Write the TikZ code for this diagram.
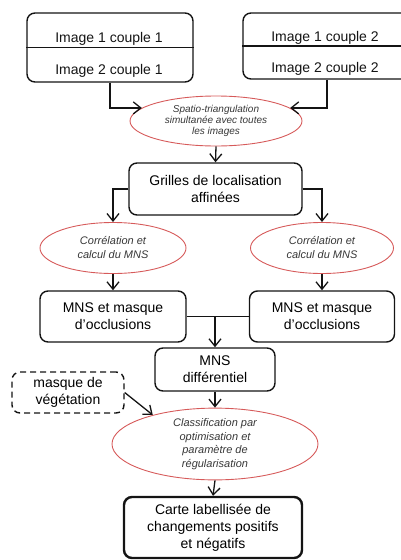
\documentclass[tikz,border=0pt]{standalone}
\usepackage{fontspec}
\setmainfont{Liberation Sans}
\usetikzlibrary{arrows.meta,shapes.geometric}
\definecolor{ellred}{RGB}{214,90,90}
\definecolor{elltext}{RGB}{55,55,55}
\definecolor{ink}{RGB}{20,20,20}
\begin{document}
\begin{tikzpicture}[x=1pt,y=-1pt,
  box/.style={draw=ink,line width=1.4pt,rounded corners=8pt,align=center,
    font=\fontsize{14}{17}\selectfont,inner sep=0pt},
  lbl/.style={font=\fontsize{14}{17}\selectfont,inner sep=0pt,text=ink},
  proc/.style={ellipse,draw=ellred,line width=0.9pt,align=center,inner sep=0pt,text=elltext},
  arr/.style={-{Straight Barb[length=7.5pt,width=12pt]},line width=1.3pt,draw=ink},
  conn/.style={line width=1.3pt,draw=ink}
]
\useasboundingbox (0,0) rectangle (400,560);

% top boxes
\node[box,minimum width=166pt,minimum height=69pt] (tl) at (110,47.5) {};
\draw[conn] (tl.west) -- (tl.east);
\node[lbl] (tl1) at (109,39) {Image 1 couple 1};
\node[lbl] (tl2) at (109,70.5) {Image 2 couple 1};

\node[box,minimum width=168pt,minimum height=66pt] (tr) at (327,46) {};
\draw[conn] (tr.west) -- (tr.east);
\node[lbl] (tr1) at (325,38) {Image 1 couple 2};
\node[lbl] (tr2) at (325,69) {Image 2 couple 2};

% spatio-triangulation
\node[proc,minimum width=172pt,minimum height=50pt,font=\fontsize{10}{11}\selectfont\itshape] (e1) at (216,121)
  {Spatio-triangulation\\simultanée avec toutes\\les images};
\draw[arr] (tl.south) |- (e1.170);
\draw[arr] (tr.south) |- (e1.10);

% grilles
\node[box,minimum width=173pt,minimum height=52pt] (g) at (215.5,189) {Grilles de localisation\\affinées};
\draw[arr] (e1.south) -- (g.north);

% correlation ellipses
\node[proc,minimum width=146pt,minimum height=51pt,font=\fontsize{11}{14}\selectfont\itshape] (c1) at (113,248)
  {Corrélation et\\calcul du MNS};
\node[proc,minimum width=143pt,minimum height=51pt,font=\fontsize{11}{14}\selectfont\itshape] (c2) at (322,248)
  {Corrélation et\\calcul du MNS};
\draw[arr] (g.west) -| (c1.north);
\draw[arr] (g.east) -| (c2.north);

% MNS boxes
\node[box,minimum width=146pt,minimum height=51pt] (m1) at (113,316.5) {MNS et masque\\d’occlusions};
\node[box,minimum width=145pt,minimum height=51pt] (m2) at (322,316.5) {MNS et masque\\d’occlusions};
\draw[arr] (c1.south) -- (m1.north);
\draw[arr] (c2.south) -- (m2.north);

% MNS differentiel
\node[box,minimum width=120pt,minimum height=43pt] (d) at (215,369.5) {MNS\\différentiel};
\draw[conn] (m1.east) -- (m2.west);
\coordinate (j) at (m1.east -| d.north);
\draw[arr] (j) -- (d.north);

% masque de vegetation
\node[box,dashed,dash pattern=on 6pt off 4pt,minimum width=112pt,minimum height=41pt] (mv) at (68,392.5)
  {masque de\\végétation};

% classification
\node[proc,minimum width=206pt,minimum height=64pt,font=\fontsize{11}{13.5}\selectfont\itshape] (cl) at (215,444)
  {Classification par\\optimisation et\\paramètre de\\régularisation};
\draw[arr] (d.south) -- (cl.north);
\draw[arr] (mv.east) -- (cl.155);

% final
\node[box,line width=2.4pt,minimum width=178pt,minimum height=61pt] (f) at (213,527.5)
  {Carte labellisée de\\changements positifs\\et négatifs};
\draw[arr] (cl.south) -- (f.north);
\end{tikzpicture}
\end{document}
